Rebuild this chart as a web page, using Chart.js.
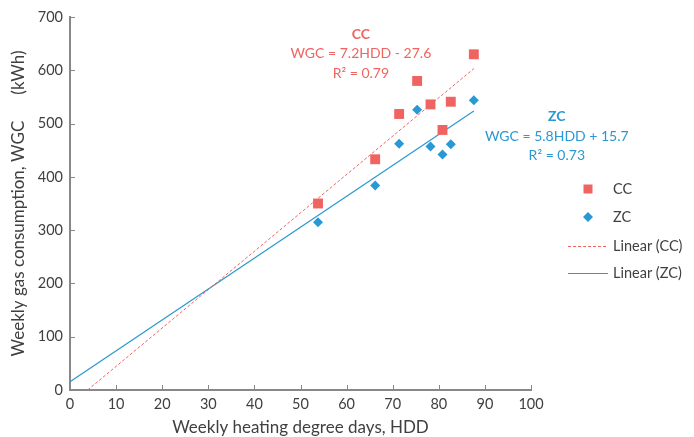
<!DOCTYPE html>
<html>
<head>
<meta charset="utf-8">
<script src="https://cdn.jsdelivr.net/npm/chart.js@4.4.1/dist/chart.umd.min.js"></script>
<style>
  html, body { margin: 0; padding: 0; background: #fff; }
  #wrap { width: 694px; height: 437px; position: relative; }
</style>
</head>
<body>
<div id="wrap"><canvas id="hdd_chart"></canvas></div>
<script>
// weekly heating degree days and gas use for the two houses
const hdd   = [53.8, 66.2, 71.4, 75.3, 78.2, 80.8, 82.6, 87.6];
const wgcCC = [350, 433, 518, 580, 536, 488, 541, 630];
const wgcZC = [315, 384, 462, 526, 457, 442, 461, 544];

// linear fits (slope, intercept, R²)
const fitCC = [7.2, -27.6, 0.79];
const fitZC = [5.8, 15.7, 0.73];

const xTicks = [0, 10, 20, 30, 40, 50, 60, 70, 80, 90, 100];
const yTicks = [0, 100, 200, 300, 400, 500, 600, 700];

const RED = '#ef6461';
const BLUE = '#2a98d2';
const TXT = '#404040';
const AXIS = '#888888';
const FONT = 'Lato, "Open Sans", sans-serif';

let toPoints = (xs, ys) => xs.map((x, i) => ({x: x, y: ys[i]}));

// trendline from where it meets the x axis (or x=0) to the last HDD value
function trend(fit){
    let x0 = Math.max(0, -fit[1] / fit[0]);
    let x1 = Math.max(...hdd);
    return [x0, x1].map((x) => ({x: x, y: fit[0] * x + fit[1]}));
}

// equation labels, anchored in data units
const notes = [
    {x: 63.1, y: 668, color: RED,  lines: ['CC', `WGC = ${fitCC[0]}HDD - ${Math.abs(fitCC[1])}`, `R² = ${fitCC[2]}`]},
    {x: 105.6, y: 513, color: BLUE, lines: ['ZC', `WGC = ${fitZC[0]}HDD + ${fitZC[1]}`, `R² = ${fitZC[2]}`]}
];

// inward tick marks like the spreadsheet chart
const innerTicks = {
    id: 'innerTicks',
    afterDraw(chart){
        let {ctx, chartArea: a, scales: {x, y}} = chart;
        ctx.save();
        ctx.strokeStyle = AXIS;
        ctx.lineWidth = 1;
        ctx.beginPath();
        xTicks.forEach((v) => {
            let px = Math.round(x.getPixelForValue(v)) + 0.5;
            ctx.moveTo(px, a.bottom); ctx.lineTo(px, a.bottom - 5);
        });
        yTicks.forEach((v) => {
            let py = Math.round(y.getPixelForValue(v)) + 0.5;
            ctx.moveTo(a.left, py); ctx.lineTo(a.left + 5, py);
        });
        ctx.stroke();
        ctx.restore();
    }
};

const equations = {
    id: 'equations',
    afterDraw(chart){
        let {ctx, scales: {x, y}} = chart;
        ctx.save();
        ctx.textAlign = 'center';
        ctx.textBaseline = 'middle';
        notes.forEach((n) => {
            let px = x.getPixelForValue(n.x);
            let py = y.getPixelForValue(n.y);
            ctx.fillStyle = n.color;
            n.lines.forEach((t, i) => {
                ctx.font = (i === 0 ? 'bold ' : '') + '14px ' + FONT;
                ctx.fillText(t, px, py + i * 19.5);
            });
        });
        ctx.restore();
    }
};

// legend on the right side
const sideLegend = {
    id: 'sideLegend',
    afterDraw(chart){
        let {ctx, chartArea: a} = chart;
        let mx = a.right + 57, tx = a.right + 82;
        let rows = [189, 217, 246, 273];
        ctx.save();
        ctx.font = '14.5px ' + FONT;
        ctx.textBaseline = 'middle';
        chart.data.datasets.forEach((ds, i) => {
            let ry = rows[i];
            if(ds.type === 'line'){
                ctx.strokeStyle = ds.borderColor;
                ctx.lineWidth = ds.borderWidth;
                ctx.setLineDash(ds.borderDash || []);
                ctx.beginPath();
                ctx.moveTo(mx - 20, ry + 0.5); ctx.lineTo(mx + 20, ry + 0.5);
                ctx.stroke();
                ctx.setLineDash([]);
            }else{
                ctx.fillStyle = ds.backgroundColor;
                ctx.beginPath();
                if(ds.pointStyle === 'rect'){
                    ctx.rect(mx - 4.5, ry - 4.5, 9, 9);
                }else{
                    ctx.moveTo(mx, ry - 5); ctx.lineTo(mx + 5, ry);
                    ctx.lineTo(mx, ry + 5); ctx.lineTo(mx - 5, ry);
                    ctx.closePath();
                }
                ctx.fill();
            }
            ctx.fillStyle = TXT;
            ctx.fillText(ds.label, tx, ry);
        });
        ctx.restore();
    }
};

let ctx = document.getElementById('hdd_chart');
let hddChart = new Chart(ctx, {
    type: 'scatter',
    data: {
        datasets: [{
            label: 'CC',
            data: toPoints(hdd, wgcCC),
            pointStyle: 'rect',
            radius: 7,
            backgroundColor: RED,
            borderWidth: 0
        }, {
            label: 'ZC',
            data: toPoints(hdd, wgcZC),
            pointStyle: 'rectRot',
            radius: 5,
            backgroundColor: BLUE,
            borderWidth: 0
        }, {
            type: 'line',
            label: 'Linear (CC)',
            data: trend(fitCC),
            borderColor: RED,
            borderWidth: 1,
            borderDash: [3, 2],
            pointRadius: 0,
            fill: false
        }, {
            type: 'line',
            label: 'Linear (ZC)',
            data: trend(fitZC),
            borderColor: BLUE,
            borderWidth: 1.2,
            pointRadius: 0,
            fill: false
        }]
    },
    options: {
        responsive: true,
        maintainAspectRatio: false,
        animation: false,
        layout: {padding: {left: 0, right: 163, top: 17, bottom: 0}},
        plugins: {legend: {display: false}, tooltip: {enabled: false}},
        scales: {
            x: {
                type: 'linear',
                min: 0, max: 100,
                afterFit: (s) => { s.height = 47; },
                afterBuildTicks: (s) => { s.ticks = xTicks.map((v) => ({value: v})); },
                grid: {display: false, drawTicks: false},
                border: {color: AXIS, width: 2},
                ticks: {color: TXT, font: {family: FONT, size: 14.5}, padding: 6, maxRotation: 0},
                title: {display: true, text: 'Weekly heating degree days, HDD', color: TXT,
                        font: {family: FONT, size: 17}, padding: {top: 0, bottom: -1}}
            },
            y: {
                min: 0, max: 700,
                afterFit: (s) => { s.width = 70; },
                afterBuildTicks: (s) => { s.ticks = yTicks.map((v) => ({value: v})); },
                grid: {display: false, drawTicks: false},
                border: {color: AXIS, width: 2},
                ticks: {color: TXT, font: {family: FONT, size: 14.5}, padding: 7},
                title: {display: true, text: 'Weekly gas consumption, WGC      (kWh)', color: TXT,
                        font: {family: FONT, size: 17}, padding: {top: 8, bottom: 0}}
            }
        }
    },
    plugins: [innerTicks, equations, sideLegend]
});
</script>
</body>
</html>
